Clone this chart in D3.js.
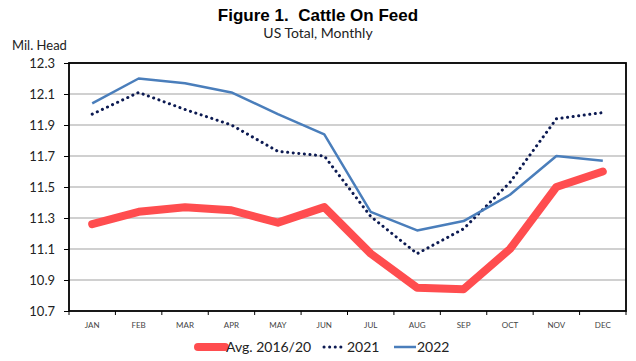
<!DOCTYPE html>
<html><head><meta charset="utf-8">
<script src="https://cdn.jsdelivr.net/npm/d3@7/dist/d3.min.js"></script>
<style>body{margin:0;background:#fff}svg{display:block}</style>
</head><body>
<script>
const months = ["JAN","FEB","MAR","APR","MAY","JUN","JUL","AUG","SEP","OCT","NOV","DEC"];
const avg1620 = [11.26,11.34,11.37,11.35,11.27,11.37,11.07,10.85,10.84,11.10,11.50,11.60];
const y2021 = [11.97,12.11,12.00,11.90,11.73,11.70,11.31,11.07,11.23,11.53,11.94,11.98];
const y2022 = [12.04,12.20,12.17,12.11,11.97,11.84,11.34,11.22,11.28,11.45,11.70,11.67];
const yTicks = [10.7,10.9,11.1,11.3,11.5,11.7,11.9,12.1,12.3];

const W=636,H=361;
const m={l:69,r:10,t:63,b:50};
const svg=d3.select("body").append("svg").attr("width",W).attr("height",H);
const x=d3.scaleBand().domain(months).range([m.l,W-m.r]);
const y=d3.scaleLinear().domain([10.7,12.3]).range([H-m.b,m.t]);
const font="Lato, 'Open Sans', sans-serif";

// gridlines
svg.append("g").selectAll("line").data(yTicks.slice(1)).join("line")
  .attr("x1",m.l).attr("x2",W-m.r).attr("y1",d=>y(d)).attr("y2",d=>y(d))
  .attr("stroke","#c0c0c0").attr("stroke-width",1.5);

// y axis
const ya=svg.append("g").attr("transform",`translate(${m.l},0)`)
  .call(d3.axisLeft(y).tickValues(yTicks).tickFormat(d3.format(".1f")).tickSize(5).tickPadding(9));
ya.select(".domain").remove();
ya.selectAll("line").attr("stroke","#000");
ya.selectAll("text").attr("font-family",font).attr("font-size",13).attr("fill","#222");

// x axis
const xa=svg.append("g").attr("transform",`translate(0,${H-m.b})`)
  .call(d3.axisBottom(x).tickSize(0).tickPadding(11));
xa.select(".domain").remove();
xa.selectAll("text").attr("font-family",font).attr("font-size",8).attr("fill","#444");
svg.append("g").selectAll("line").data(d3.range(months.length+1)).join("line")
  .attr("x1",i=>m.l+i*x.bandwidth()).attr("x2",i=>m.l+i*x.bandwidth())
  .attr("y1",H-m.b).attr("y2",H-m.b+4).attr("stroke","#000").attr("stroke-width",1);

// border
svg.append("rect").attr("x",m.l).attr("y",m.t).attr("width",W-m.r-m.l).attr("height",H-m.b-m.t)
  .attr("fill","none").attr("stroke","#000").attr("stroke-width",1.8);

const line=d3.line().x((d,i)=>x(months[i])+x.bandwidth()/2).y(d=>y(d));
svg.append("path").datum(avg1620).attr("d",line).attr("fill","none")
  .attr("stroke","#ff4d4f").attr("stroke-width",8).attr("stroke-linecap","round").attr("stroke-linejoin","round");
svg.append("path").datum(y2021).attr("d",line).attr("fill","none")
  .attr("stroke","#0c1a52").attr("stroke-width",3).attr("stroke-dasharray","0.1 5.5").attr("stroke-linecap","round");
svg.append("path").datum(y2022).attr("d",line).attr("fill","none")
  .attr("stroke","#4a7ebb").attr("stroke-width",2.5).attr("stroke-linejoin","round");

// titles
svg.append("text").attr("x",318).attr("y",21).attr("text-anchor","middle")
  .attr("font-family","Arial, 'Liberation Sans', sans-serif").attr("font-weight","bold").attr("font-size",17).attr("fill","#000")
  .text("Figure 1.  Cattle On Feed").attr("xml:space","preserve").style("white-space","pre");
svg.append("text").attr("x",318).attr("y",38).attr("text-anchor","middle")
  .attr("font-family",font).attr("font-size",14).attr("fill","#222").text("US Total, Monthly");
svg.append("text").attr("x",12).attr("y",50)
  .attr("font-family",font).attr("font-size",13).attr("fill","#222").text("Mil. Head");

// legend
const leg=[
  {name:"Avg. 2016/20",x1:198,x2:225,c:"#ff4d4f",w:8,dash:null,cap:"round"},
  {name:"2021",x1:324,x2:346,c:"#0c1a52",w:3,dash:"0.1 5.5",cap:"round"},
  {name:"2022",x1:394,x2:416,c:"#4a7ebb",w:2.5,dash:null,cap:"butt"}];
const lg=svg.append("g");
leg.forEach(d=>{
  const ln=lg.append("line").attr("x1",d.x1).attr("x2",d.x2).attr("y1",347).attr("y2",347)
    .attr("stroke",d.c).attr("stroke-width",d.w).attr("stroke-linecap",d.cap);
  if(d.dash) ln.attr("stroke-dasharray",d.dash);
  lg.append("text").attr("x",d.x2+1).attr("y",352).attr("font-family",font).attr("font-size",14).attr("fill","#222").text(d.name);
});
</script>
</body></html>
